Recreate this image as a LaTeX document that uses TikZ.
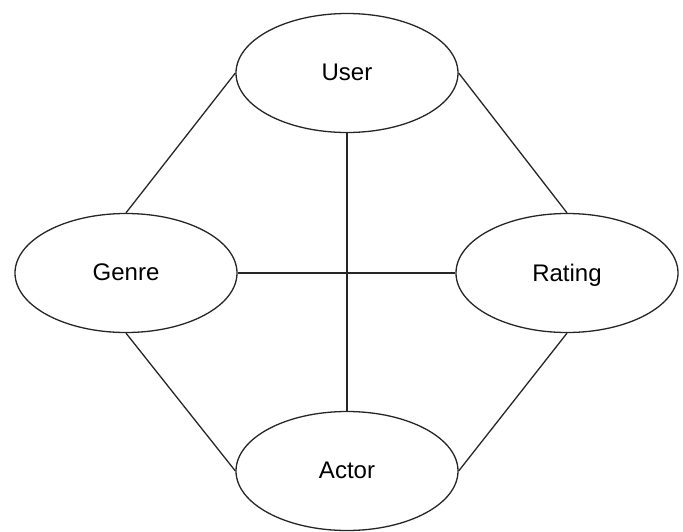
\documentclass[tikz,border=0pt]{standalone}
\usepackage{fontspec}
\setmainfont{Liberation Sans}
\usetikzlibrary{shapes.geometric}
\begin{document}
\begin{tikzpicture}[x=1pt,y=-1pt,
  entity/.style={draw=black!85, line width=1.3pt, ellipse, minimum width=222pt, minimum height=119pt, inner sep=0pt, text depth=1pt, font=\fontsize{24}{28}\selectfont},
  link/.style={draw=black!85, line width=1.3pt}]
  \useasboundingbox (0,0) rectangle (683,531);
  \node[entity] (user)   at (347,73)  {User};
  \node[entity] (genre)  at (126,273) {Genre};
  \node[entity] (rating) at (567,273) {Rating};
  \node[entity] (actor)  at (347,471) {Actor};
  \draw[link] (user.west) -- (genre.north);
  \draw[link] (user.east) -- (rating.north);
  \draw[link] (genre.south) -- (actor.west);
  \draw[link] (rating.south) -- (actor.east);
  \draw[link] (user.south) -- (actor.north);
  \draw[link] (genre.east) -- (rating.west);
\end{tikzpicture}
\end{document}
